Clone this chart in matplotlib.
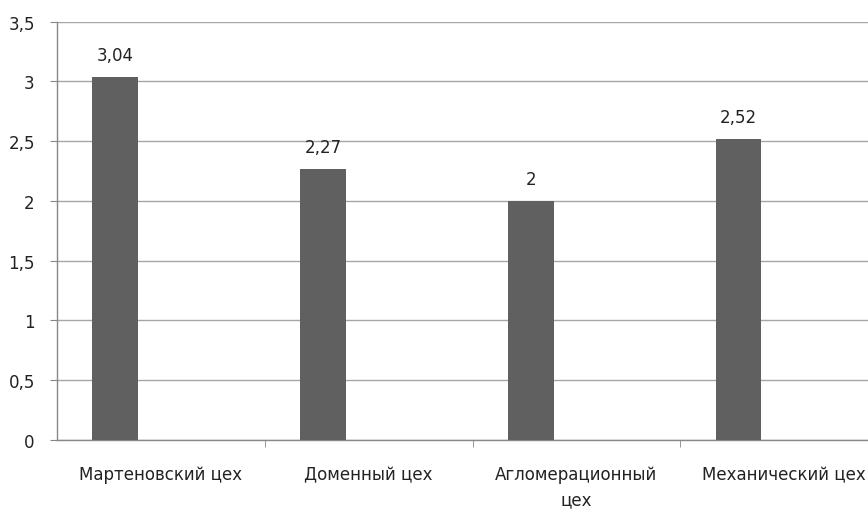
import matplotlib
matplotlib.use("Agg")
import matplotlib.pyplot as plt
import numpy as np
from matplotlib.ticker import FuncFormatter, MultipleLocator

categories = ["Мартеновский цех", "Доменный цех", "Агломерационный\nцех", "Механический цех"]
values = [3.04, 2.27, 2.0, 2.52]
value_labels = ["3,04", "2,27", "2", "2,52"]

plt.rcParams['font.family'] = ['DejaVu Sans']
fig = plt.figure(figsize=(8.68, 5.10), dpi=100)
W, H = 868, 510
left, right, top, bottom = 57, 888, 22.5, 441
ax = fig.add_axes([left / W, 1 - bottom / H, (right - left) / W, (bottom - top) / H])

x = np.arange(len(categories))
bar_color = "#606060"
bars = ax.bar(x - 0.22, values, width=0.22, color=bar_color, zorder=3)

for b, lab in zip(bars, value_labels):
    ax.annotate(lab, (b.get_x() + b.get_width() / 2, b.get_height()),
                xytext=(0, 9), textcoords="offset points",
                ha="center", va="bottom", fontsize=12, color="#222222")

ax.set_xlim(-0.5, len(categories) - 0.5)
ax.set_ylim(0, 3.5)
ax.yaxis.set_major_locator(MultipleLocator(0.5))
ax.yaxis.set_major_formatter(FuncFormatter(lambda v, p: ("%g" % v).replace(".", ",")))
ax.grid(axis="y", color="#a6a6a6", linewidth=1, zorder=0)

ax.set_xticks(x)
ax.set_xticklabels(categories, linespacing=1.55)
ax.set_xticks(np.arange(len(categories)) + 0.5, minor=True)
ax.tick_params(axis="x", which="major", length=0, pad=18, labelsize=12, colors="#222222")
ax.tick_params(axis="x", which="minor", length=5, color="#888888", direction="out")
ax.tick_params(axis="y", length=5, color="#888888", pad=11, labelsize=12, labelcolor="#222222")

for s in ["top", "right"]:
    ax.spines[s].set_visible(False)
for s in ["left", "bottom"]:
    ax.spines[s].set_color("#888888")
    ax.spines[s].set_linewidth(1)

fig.savefig("out.png", dpi=100)
